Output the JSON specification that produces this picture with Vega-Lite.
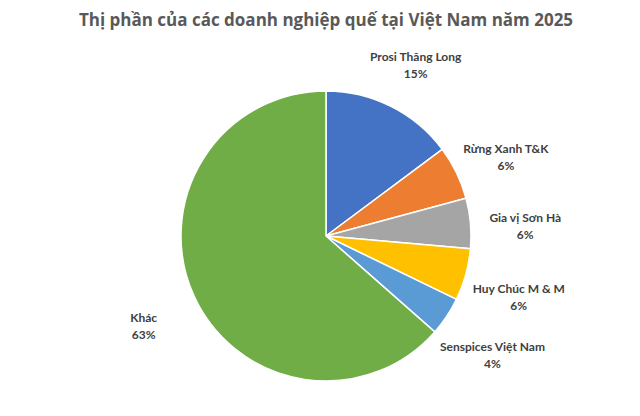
{
  "$schema": "https://vega.github.io/schema/vega-lite/v6.json",
  "autosize": "none",
  "width": 640,
  "height": 360,
  "padding": {"top": 56, "left": 6, "right": 0, "bottom": 0},
  "background": "white",
  "title": {
    "text": "Thị phần của các doanh nghiệp quế tại Việt Nam năm 2025",
    "font": "Open Sans",
    "fontSize": 17,
    "fontWeight": "bold",
    "color": "#595959",
    "anchor": "middle",
    "offset": 21
  },
  "data": {
    "values": [
      {"o": 1, "name": "Prosi Thăng Long", "value": 14.8, "label": ["Prosi Thăng Long", "15%"]},
      {"o": 2, "name": "Rừng Xanh T&K", "value": 6.0, "label": ["Rừng Xanh T&K", "6%"]},
      {"o": 3, "name": "Gia vị Sơn Hà", "value": 5.6, "label": ["Gia vị Sơn Hà", "6%"]},
      {"o": 4, "name": "Huy Chúc M & M", "value": 5.8, "label": ["Huy Chúc M & M", "6%"]},
      {"o": 5, "name": "Senspices Việt Nam", "value": 4.3, "label": ["Senspices Việt Nam", "4%"]},
      {"o": 6, "name": "Khác", "value": 63.5, "label": ["Khác", "63%"]}
    ]
  },
  "encoding": {
    "theta": {"field": "value", "type": "quantitative", "stack": true},
    "order": {"field": "o", "type": "quantitative"}
  },
  "layer": [
    {
      "mark": {"type": "arc", "outerRadius": 145, "stroke": "white", "strokeWidth": 1.5},
      "encoding": {
        "color": {
          "field": "name",
          "type": "nominal",
          "sort": null,
          "scale": {
            "domain": ["Prosi Thăng Long", "Rừng Xanh T&K", "Gia vị Sơn Hà", "Huy Chúc M & M", "Senspices Việt Nam", "Khác"],
            "range": ["#4472C4", "#ED7D31", "#A5A5A5", "#FFC000", "#5B9BD5", "#70AD47"]
          },
          "legend": null
        }
      }
    },
    {
      "mark": {"type": "text", "radius": 200, "font": "Lato", "fontSize": 12, "fontWeight": "bold", "color": "#404040", "lineHeight": 17, "align": "center", "baseline": "middle"},
      "encoding": {
        "text": {"field": "label", "type": "nominal"}
      }
    }
  ]
}
